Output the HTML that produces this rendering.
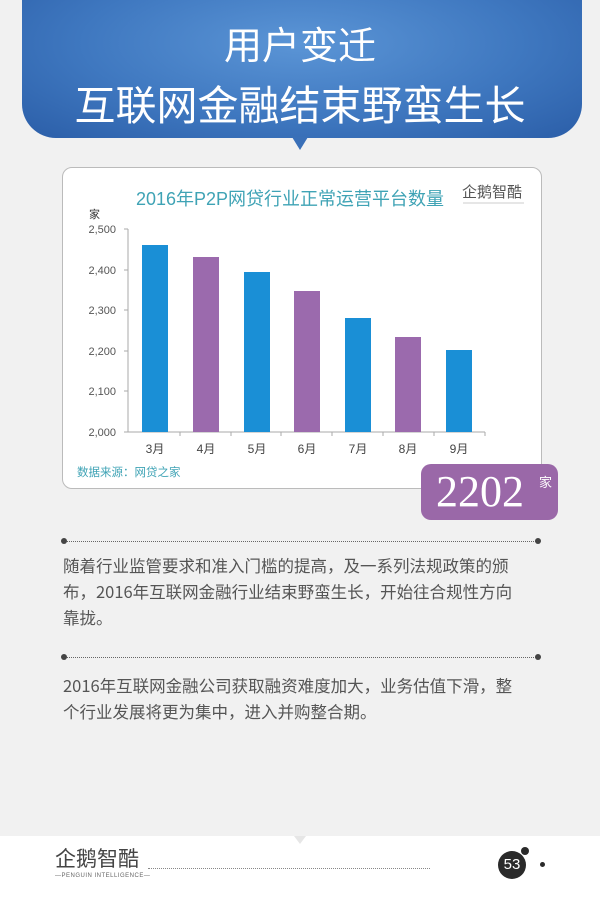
<!DOCTYPE html>
<html><head><meta charset="utf-8"><style>
*{margin:0;padding:0}
body{width:600px;height:900px;background:#f1f1f1;position:relative;overflow:hidden;font-family:"Liberation Sans","Noto Sans CJK SC",sans-serif}
.banner{position:absolute;left:22px;top:-20px;width:560px;height:158px;border-radius:0 0 34px 34px;background:radial-gradient(ellipse at 50% 40%,#5b95d6 0%,#3f78c0 55%,#2b5ea8 100%)}
.ptr{position:absolute;left:292px;top:137px;width:0;height:0;border-left:8px solid transparent;border-right:8px solid transparent;border-top:13px solid #3a70b8}
.t{position:absolute;left:0;width:600px;text-align:center;color:#fff;font-family:"Noto Sans CJK SC",sans-serif}
.card{position:absolute;left:62px;top:167px;width:478px;height:320px;background:#fff;border:1px solid #bbb;border-radius:10px}
.badge{position:absolute;left:421px;top:464px;width:137px;height:56px;background:#9a68a8;border-radius:10px;color:#fff}
.dl{position:absolute;left:64px;width:474px;border-top:1px dotted #666;height:0}
.dot{position:absolute;width:6px;height:6px;border-radius:50%;background:#444}
.p{position:absolute;left:63px;font-size:16.5px;color:#555;white-space:nowrap;font-family:"Noto Sans CJK SC",sans-serif}
.foot{position:absolute;left:0;top:836px;width:600px;height:64px;background:#fff}
</style></head><body>
<div class="banner"></div><div class="ptr"></div>
<div class="t" style="top:18px;font-size:38px;line-height:50px">用户变迁</div>
<div class="t" style="top:75px;font-size:41px;line-height:54px">互联网金融结束野蛮生长</div>
<div class="card"></div>
<svg style="position:absolute;left:0;top:0" width="600" height="900">
<text x="290" y="205" text-anchor="middle" font-size="18" fill="#3fa3b5" font-family="Liberation Sans,Noto Sans CJK SC,sans-serif">2016年P2P网贷行业正常运营平台数量</text>
<text x="462" y="197" font-size="15" fill="#555" font-family="Noto Sans CJK SC,sans-serif">企鹅智酷</text>
<line x1="463" y1="203" x2="524" y2="203" stroke="#999" stroke-width="0.6"/>
<text x="89" y="218" font-size="11" fill="#333" font-family="Noto Sans CJK SC,sans-serif">家</text>
<g font-size="11" fill="#555" text-anchor="end" font-family="Liberation Sans,sans-serif">
<text x="116" y="233">2,500</text><text x="116" y="274">2,400</text><text x="116" y="314">2,300</text><text x="116" y="355">2,200</text><text x="116" y="395">2,100</text><text x="116" y="436">2,000</text></g>
<line x1="128" y1="229" x2="128" y2="432" stroke="#aaa"/>
<line x1="128" y1="432" x2="485" y2="432" stroke="#aaa"/>
<g stroke="#aaa"><line x1="124" y1="229" x2="128" y2="229"/><line x1="124" y1="270" x2="128" y2="270"/><line x1="124" y1="310" x2="128" y2="310"/><line x1="124" y1="351" x2="128" y2="351"/><line x1="124" y1="391" x2="128" y2="391"/><line x1="124" y1="432" x2="128" y2="432"/>
<line x1="180" y1="432" x2="180" y2="436"/><line x1="231" y1="432" x2="231" y2="436"/><line x1="281" y1="432" x2="281" y2="436"/><line x1="332" y1="432" x2="332" y2="436"/><line x1="383" y1="432" x2="383" y2="436"/><line x1="434" y1="432" x2="434" y2="436"/><line x1="485" y1="432" x2="485" y2="436"/></g>
<rect x="142" y="245" width="26" height="187" fill="#1a8fd6"/>
<rect x="193" y="257" width="26" height="175" fill="#9b6aad"/>
<rect x="244" y="272" width="26" height="160" fill="#1a8fd6"/>
<rect x="294" y="291" width="26" height="141" fill="#9b6aad"/>
<rect x="345" y="318" width="26" height="114" fill="#1a8fd6"/>
<rect x="395" y="337" width="26" height="95" fill="#9b6aad"/>
<rect x="446" y="350" width="26" height="82" fill="#1a8fd6"/>
<g font-size="12" fill="#444" text-anchor="middle" font-family="Liberation Sans,Noto Sans CJK SC,sans-serif">
<text x="155" y="453">3月</text><text x="206" y="453">4月</text><text x="257" y="453">5月</text><text x="307" y="453">6月</text><text x="358" y="453">7月</text><text x="408" y="453">8月</text><text x="459" y="453">9月</text></g>
<text x="77" y="476" font-size="11.5" fill="#3fa3b5" font-family="Noto Sans CJK SC,sans-serif">数据来源：网贷之家</text>
</svg>
<div class="badge"><span style="position:absolute;left:15px;top:4px;font-family:'Liberation Serif',serif;font-size:44px;line-height:48px">2202</span><span style="position:absolute;left:118px;top:8px;font-size:13px;font-family:'Noto Sans CJK SC',sans-serif">家</span></div>
<div class="dl" style="top:541px"></div><div class="dot" style="left:61px;top:538px"></div><div class="dot" style="left:535px;top:538px"></div>
<div class="p" style="top:552px;line-height:26px">随着行业监管要求和准入门槛的提高，及一系列法规政策的颁<br>布，2016年互联网金融行业结束野蛮生长，开始往合规性方向<br>靠拢。</div>
<div class="dl" style="top:657px"></div><div class="dot" style="left:61px;top:654px"></div><div class="dot" style="left:535px;top:654px"></div>
<div class="p" style="top:672px;line-height:26px">2016年互联网金融公司获取融资难度加大，业务估值下滑，整<br>个行业发展将更为集中，进入并购整合期。</div>
<div class="foot"></div>
<div style="position:absolute;left:294px;top:836px;width:0;height:0;border-left:6px solid transparent;border-right:6px solid transparent;border-top:8px solid #e6e6e6"></div>
<div style="position:absolute;left:55px;top:843px;font-size:21px;color:#444;font-family:'Noto Sans CJK SC',sans-serif;line-height:30px">企鹅智酷</div>
<div style="position:absolute;left:55px;top:873px;font-size:6px;color:#666;letter-spacing:0.5px">—PENGUIN INTELLIGENCE—</div>
<div style="position:absolute;left:148px;top:868px;width:282px;border-top:1px dotted #888"></div>
<div style="position:absolute;left:498px;top:851px;width:28px;height:28px;border-radius:50%;background:#2a2a2a;color:#fff;font-size:15px;line-height:28px;text-align:center">53</div>
<div style="position:absolute;left:521px;top:847px;width:8px;height:8px;border-radius:50%;background:#2a2a2a"></div>
<div style="position:absolute;left:540px;top:862px;width:5px;height:5px;border-radius:50%;background:#2a2a2a"></div>
</body></html>
